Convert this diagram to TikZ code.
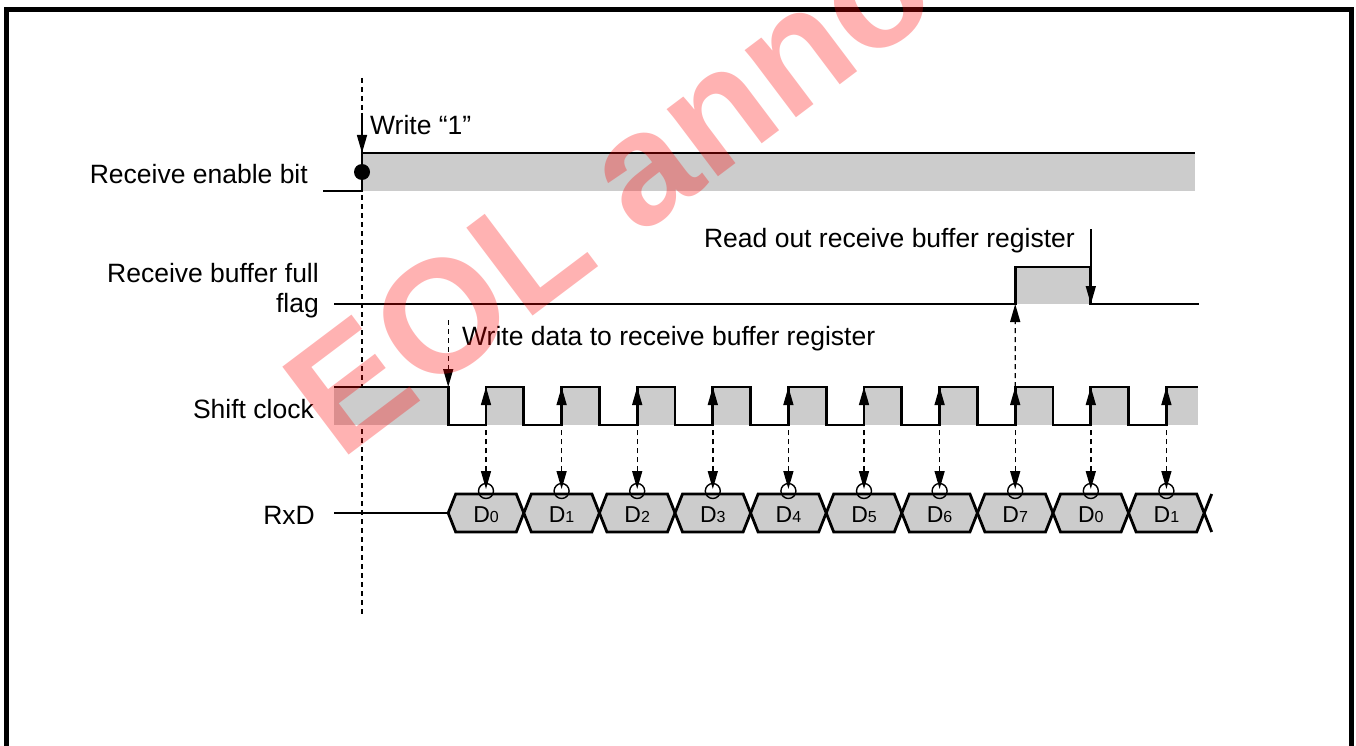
\documentclass[tikz,border=0pt]{standalone}
\usepackage{fontspec}
\setmainfont{Liberation Sans}
\usetikzlibrary{arrows.meta}

\begin{document}
\begin{tikzpicture}[x=1pt, y=-1pt,
    wave/.style={line width=2.8pt, line join=miter},
    band/.style={fill=black!20},
    guide/.style={line width=1.4pt, dash pattern=on 5pt off 4pt},
    onearrow/.style={-{Triangle[length=18pt, width=10pt]}},
    twoarrow/.style={{Triangle[length=18pt, width=10pt]}-{Triangle[length=18pt, width=10pt]}},
    sigtxt/.style={font=\fontsize{26.5}{30}\selectfont, inner sep=0pt},
    cell/.style={font=\fontsize{23}{26}\selectfont, inner sep=0pt}
  ]
  \useasboundingbox (0,0) rectangle (1356,746);
  \draw[line width=5pt] (6.5,746) -- (6.5,9.5) -- (1351,9.5) -- (1351,746);

  % signal names
  \node[sigtxt, anchor=base east] (ren) at (308,183) {Receive enable bit};
  \node[sigtxt, anchor=base east] (rbf) at (319,282) {Receive buffer full};
  \node[sigtxt, anchor=base east] (rbf2) at (319,312) {flag};
  \node[sigtxt, anchor=base east] (sck) at (314,418) {Shift clock};
  \node[sigtxt, anchor=base east] (rxd) at (315,524) {RxD};

  % timing guide
  \coordinate (g0) at (362,78);
  \coordinate (g1) at (362,615);
  \draw[guide] (g0) -- (g1);

  % receive enable bit
  \fill[band] (362,153) rectangle (1195,191);
  \draw[wave] (323,191) -- (362,191) -- (362,153) -- (1195,153);
  \node[circle, fill, inner sep=0pt, minimum size=16pt] (dot) at (362,172) {};
  \coordinate (w0) at (362,113);
  \coordinate (w1) at (362,153);
  \draw[onearrow, line width=1.5pt] (w0) -- (w1);
  \node[sigtxt, anchor=base west] (wtxt) at (370,135) {Write ``1''};

  % receive buffer full flag
  \fill[band] (1015.2,267) rectangle (1090.8,304);
  \draw[wave] (334,304) -- (1015.2,304) -- (1015.2,267) -- (1090.8,267) -- (1090.8,304) -- (1199,304);
  \coordinate (r0) at (1090.8,229);
  \coordinate (r1) at (1090.8,304);
  \draw[onearrow, line width=1.5pt] (r0) -- (r1);
  \node[sigtxt, anchor=base east] (rtxt) at (1075,247) {Read out receive buffer register};

  % shift clock
  \fill[band] (334,387) rectangle (448.2,425);
  \foreach \k in {0,...,8}
    \fill[band] ({486+75.6*\k},387) rectangle ({523.8+75.6*\k},425);
  \fill[band] (1166.4,387) rectangle (1198,425);
  \draw[wave] (334,387) -- (448.2,387) -- (448.2,425)
    \foreach \k in {0,...,8} {
      -- ({486+75.6*\k},425) -- ({486+75.6*\k},387)
      -- ({523.8+75.6*\k},387) -- ({523.8+75.6*\k},425) }
    -- (1166.4,425) -- (1166.4,387) -- (1198,387);
  \coordinate (wd0) at (448.2,320);
  \coordinate (wd1) at (448.2,387);
  \draw[guide, onearrow] (wd0) -- (wd1);
  \node[sigtxt, anchor=base west] (wdtxt) at (462,345) {Write data to receive buffer register};

  % RxD
  \draw[wave] (334,513) -- (448.2,513);
  \foreach \v [count=\k from 0] in {0,1,2,3,4,5,6,7,0,1} {
    \pgfmathsetmacro{\a}{448.2+75.6*\k}
    \draw[wave, band] (\a,513) -- ({\a+7.5},494) -- ({\a+68.1},494) -- ({\a+75.6},513)
      -- ({\a+68.1},532) -- ({\a+7.5},532) -- cycle;
    \node[cell, anchor=base] (d\k) at ({\a+37.8},522.5) {D{\fontsize{16}{16}\selectfont\v}};
  }
  \coordinate (xe) at (1204.2,513);
  \draw[wave] (xe) -- (1211.7,494);
  \draw[wave] (xe) -- (1211.7,532);

  % sampling points
  \foreach \k in {0,...,9} {
    \coordinate (ck\k) at ({486+75.6*\k},387);
    \coordinate (bt\k) at ({486+75.6*\k},489);
    \draw[guide, twoarrow] (bt\k) -- (ck\k);
    \draw[line width=1.4pt] ({486+75.6*\k},491) circle[radius=7.5pt];
  }
  \coordinate (fl) at (1015.2,304);
  \draw[guide, onearrow] (ck7) -- (fl);

  % watermark
  \begin{scope}
    \clip (0,0) rectangle (1356,746);
    \node[rotate=37, anchor=base west, inner sep=0pt, text=red, opacity=0.3,
      font=\fontsize{160}{160}\selectfont\bfseries] (eol) at (340,462) {EOL announced};
  \end{scope}
\end{tikzpicture}
\end{document}
